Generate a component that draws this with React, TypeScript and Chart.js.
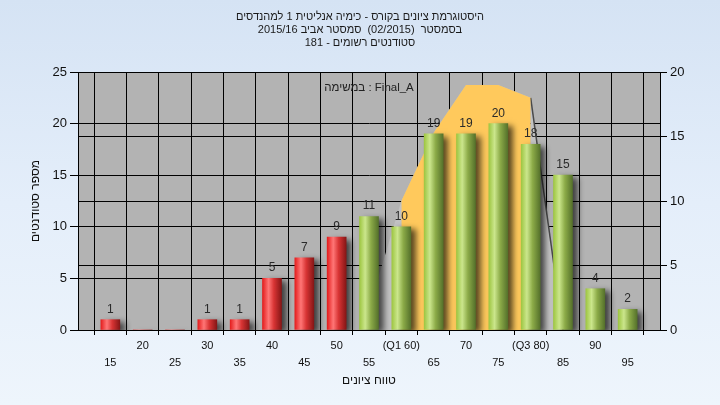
import React, { useEffect, useRef } from 'react';
import { Chart, registerables } from 'chart.js';

Chart.register(...registerables);

const FONT = "'Liberation Sans', 'DejaVu Sans', Arial, sans-serif";

const titleLines = [
  'היסטוגרמת ציונים בקורס - כימיה אנליטית 1 למהנדסים',
  'בסמסטר  (02/2015)  סמסטר אביב 2015/16',
  'סטודנטים רשומים - 181',
];
const taskText = 'במשימה : Final_A';
const yTitle = 'מספר סטודנטים';
const xTitle = 'טווח ציונים';

const gradeBins = [15, 20, 25, 30, 35, 40, 45, 50, 55, 60, 65, 70, 75, 80, 85, 90, 95];
const binLabels = ['15', '20', '25', '30', '35', '40', '45', '50', '55', '(Q1 60)', '65', '70', '75', '(Q3 80)', '85', '90', '95'];
const studentCounts = [1, 0, 0, 1, 1, 5, 7, 9, 11, 10, 19, 19, 20, 18, 15, 4, 2];

const curveX = [54, 60, 65, 70, 75, 80, 85];
const curveY = [0, 10, 15.3, 19, 19, 18, 0];
const iqrX = [60, 65, 70, 75, 80];
const iqrY = [10, 15.3, 19, 19, 18];

const passMark = 55;
const xMin = 10;
const xMax = 100;
const yMax = 25;
const y2Max = 20;
const tickStep = 5;

export default function App() {
  const canvasRef = useRef<HTMLCanvasElement | null>(null);

  useEffect(() => {
    const canvas = canvasRef.current;
    if (!canvas) return;

    const plotBg = {
      id: 'plotBg',
      beforeDraw(chart: any) {
        const { ctx, chartArea } = chart;
        if (!chartArea) return;
        ctx.save();
        ctx.fillStyle = '#b3b3b3';
        ctx.fillRect(chartArea.left, chartArea.top, chartArea.right - chartArea.left, chartArea.bottom - chartArea.top);
        ctx.restore();
      },
    };

    const barShadow = {
      id: 'barShadow',
      beforeDatasetDraw(chart: any, args: any) {
        if (args.meta.type !== 'bar') return;
        const ctx = chart.ctx;
        ctx.save();
        ctx.shadowColor = 'rgba(0,0,0,0.65)';
        ctx.shadowBlur = 6;
        ctx.shadowOffsetX = 5;
        ctx.shadowOffsetY = 3;
      },
      afterDatasetDraw(chart: any, args: any) {
        if (args.meta.type !== 'bar') return;
        chart.ctx.restore();
      },
    };

    const valueLabels = {
      id: 'valueLabels',
      afterDatasetsDraw(chart: any) {
        const ctx = chart.ctx;
        const meta = chart.getDatasetMeta(0);
        ctx.save();
        ctx.font = `12px ${FONT}`;
        ctx.fillStyle = '#2a2a2a';
        ctx.textAlign = 'center';
        ctx.textBaseline = 'alphabetic';
        meta.data.forEach((el: any, i: number) => {
          const v = studentCounts[i];
          if (v > 0) ctx.fillText(String(v), el.x, el.y - 7);
        });
        const area = chart.chartArea;
        ctx.fillStyle = '#222';
        ctx.font = `11.5px ${FONT}`;
        ctx.fillText(taskText, (area.left + area.right) / 2, area.top + 19);
        ctx.restore();
      },
    };

    const barFill = (c: any) => {
      const chart = c.chart;
      const xs = chart.scales && chart.scales.x;
      if (c.type !== 'data' || !xs || !chart.chartArea) return '#8fb04a';
      const xv = gradeBins[c.dataIndex];
      const px = xs.getPixelForValue(xv);
      const g = chart.ctx.createLinearGradient(px - 9.5, 0, px + 9.5, 0);
      if (xv < passMark) {
        g.addColorStop(0, '#e41e1e');
        g.addColorStop(0.32, '#ff7676');
        g.addColorStop(0.6, '#d83434');
        g.addColorStop(1, '#861616');
      } else {
        g.addColorStop(0, '#9ec642');
        g.addColorStop(0.3, '#cbe68c');
        g.addColorStop(0.6, '#8cab48');
        g.addColorStop(1, '#55712b');
      }
      return g;
    };

    const chart = new Chart(canvas, {
      type: 'bar',
      data: {
        datasets: [
          {
            type: 'bar',
            label: 'counts',
            data: gradeBins.map((x, i) => ({ x, y: studentCounts[i] })),
            xAxisID: 'x',
            yAxisID: 'y',
            barThickness: 19,
            backgroundColor: barFill,
            borderWidth: 0,
            order: 1,
          } as any,
          {
            type: 'line',
            label: 'iqr',
            data: iqrX.map((x, i) => ({ x, y: iqrY[i] })),
            xAxisID: 'x',
            yAxisID: 'y2',
            fill: 'origin',
            backgroundColor: '#ffc95c',
            borderColor: 'rgba(0,0,0,0)',
            borderWidth: 0,
            pointRadius: 0,
            tension: 0,
            order: 2,
          } as any,
          {
            type: 'line',
            label: 'curve',
            data: curveX.map((x, i) => ({ x, y: curveY[i] })),
            xAxisID: 'x',
            yAxisID: 'y2',
            fill: 'origin',
            backgroundColor: '#c2c2c2',
            borderColor: 'rgba(0,0,0,0)',
            borderWidth: 1.5,
            pointRadius: 0,
            tension: 0,
            order: 3,
            segment: {
              borderColor: (s: any) => (s.p0.parsed.x >= iqrX[iqrX.length - 1] ? '#4a4a4a' : 'rgba(0,0,0,0)'),
            },
          } as any,
        ],
      },
      options: {
        animation: false,
        responsive: false,
        layout: { padding: 0 },
        plugins: {
          legend: { display: false },
          tooltip: { enabled: false },
          title: {
            display: true,
            text: titleLines,
            color: '#1a1a1a',
            font: { size: 11, family: FONT, weight: 'normal', lineHeight: 13 / 11 },
            padding: { top: 10.5, bottom: 22.5 },
          },
        },
        scales: {
          x: {
            type: 'linear',
            min: xMin,
            max: xMax,
            offset: false,
            afterBuildTicks: (s: any) => {
              s.ticks = gradeBins.map((v) => ({ value: v }));
            },
            afterFit: (s: any) => {
              s.height = 75;
            },
            ticks: {
              autoSkip: false,
              maxRotation: 0,
              minRotation: 0,
              padding: 3,
              color: '#111',
              font: { size: 11, family: FONT, lineHeight: 1.5 },
              callback: (_v: any, i: number) => (i % 2 === 0 ? ['', binLabels[i]] : binLabels[i]),
            },
            grid: { color: '#000', lineWidth: 1, tickLength: 5, tickColor: '#000' },
            border: { color: '#000', width: 1 },
            title: {
              display: true,
              text: xTitle,
              color: '#111',
              font: { size: 12, family: FONT },
              padding: { top: 0, bottom: 17 },
            },
          },
          y: {
            type: 'linear',
            position: 'left',
            min: 0,
            max: yMax,
            afterFit: (s: any) => {
              s.width = 78;
            },
            ticks: { stepSize: tickStep, color: '#111', font: { size: 13, family: FONT }, padding: 3 },
            grid: { color: '#000', lineWidth: 1, tickLength: 8, tickColor: '#000' },
            border: { color: '#000', width: 1 },
            title: {
              display: true,
              text: yTitle,
              color: '#111',
              font: { size: 12, family: FONT },
              padding: { top: 28, bottom: 0 },
            },
          },
          y2: {
            type: 'linear',
            position: 'right',
            min: 0,
            max: y2Max,
            afterFit: (s: any) => {
              s.width = 60;
            },
            ticks: { stepSize: tickStep, color: '#111', font: { size: 13, family: FONT }, padding: 3 },
            grid: { color: '#000', lineWidth: 1, tickLength: 7, tickColor: '#000' },
            border: { color: '#000', width: 1 },
          },
        },
      } as any,
      plugins: [plotBg, barShadow, valueLabels],
    });

    return () => {
      chart.destroy();
    };
  }, []);

  return (
    <div
      style={{
        position: 'fixed',
        left: 0,
        top: 0,
        width: 720,
        height: 405,
        background: 'linear-gradient(180deg, #d5e3f4 0%, #e4eefa 50%, #eef5fc 100%)',
      }}
    >
      <canvas ref={canvasRef} width={720} height={405} style={{ display: 'block' }} />
    </div>
  );
}
